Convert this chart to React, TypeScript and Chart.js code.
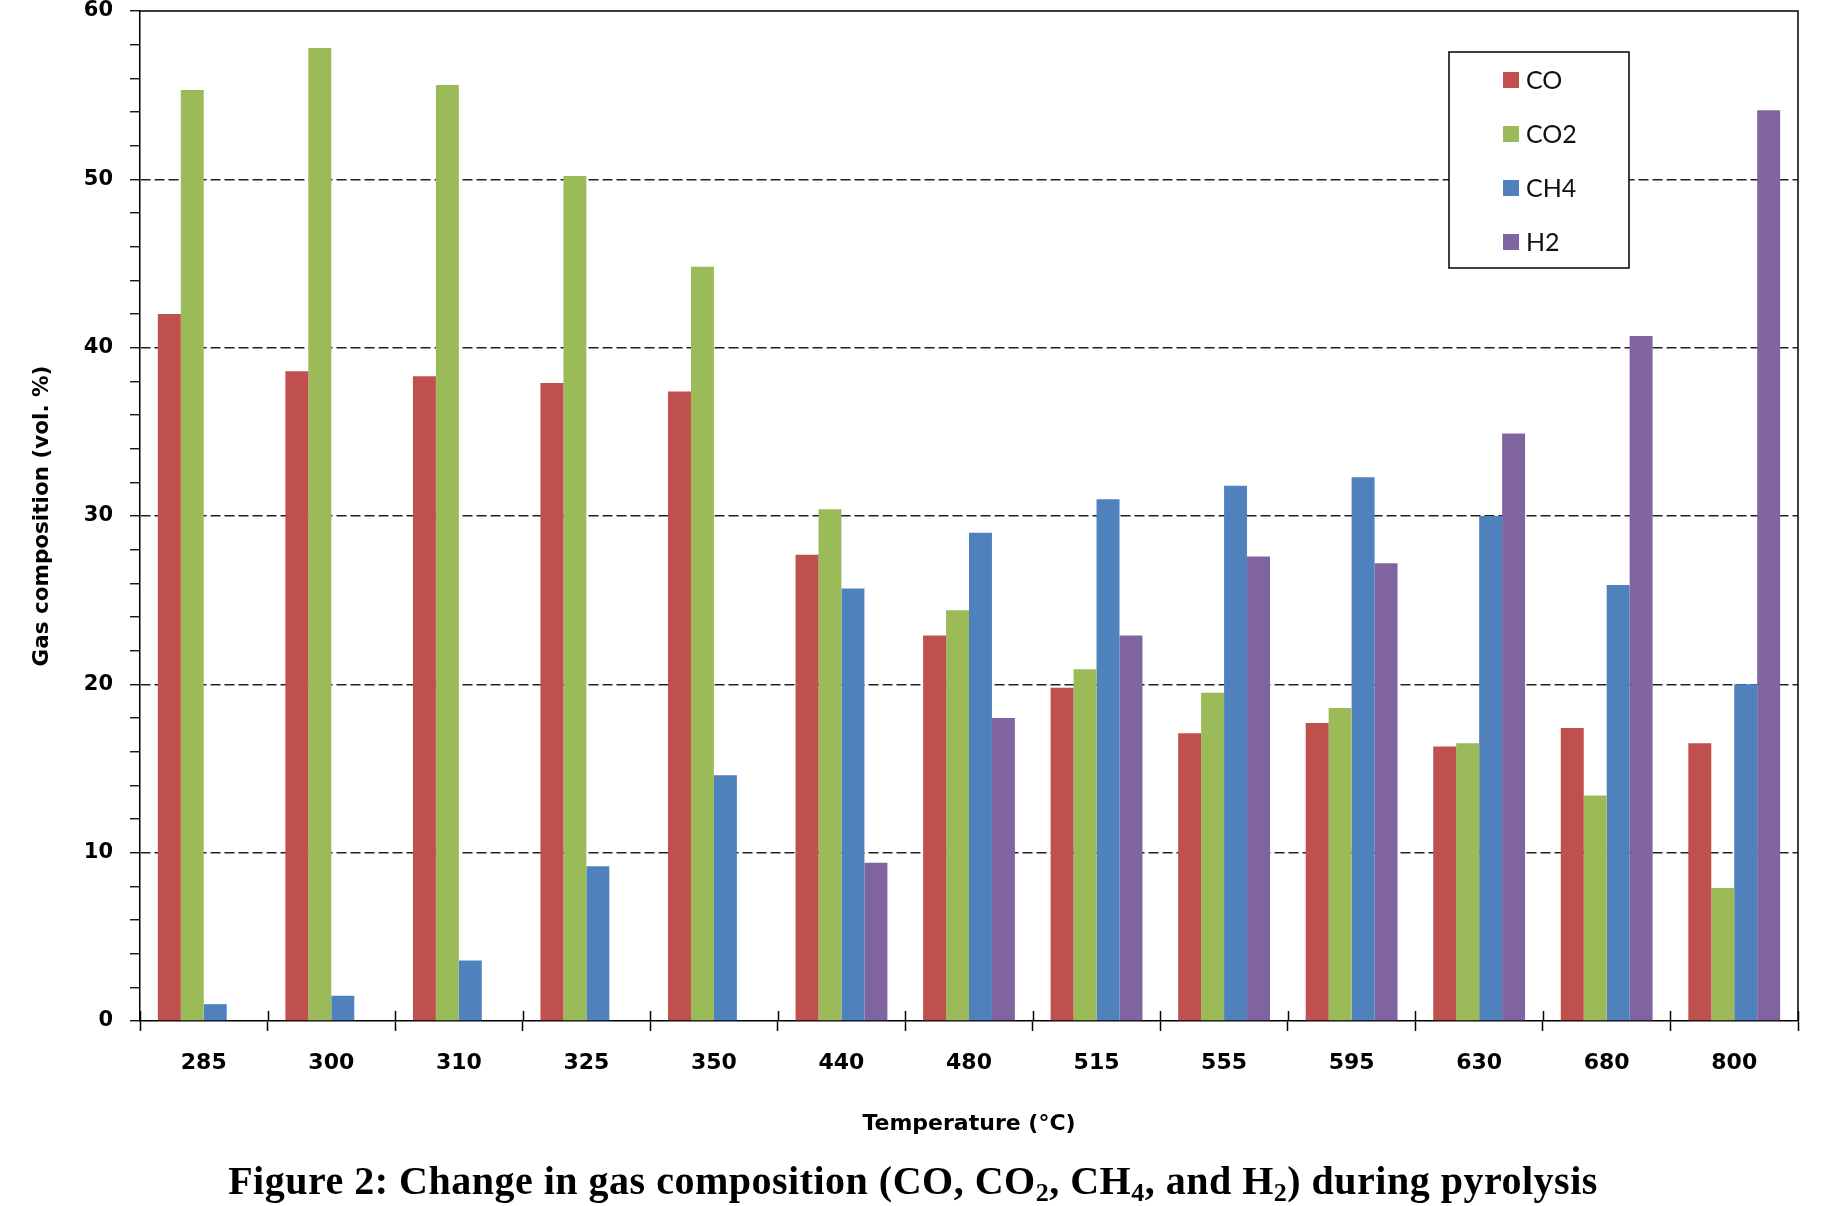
import React, { useEffect, useRef } from 'react';
import { Chart, registerables } from 'chart.js';

Chart.register(...registerables);

const categories = ['285', '300', '310', '325', '350', '440', '480', '515', '555', '595', '630', '680', '800'];
const coValues = [42.0, 38.6, 38.3, 37.9, 37.4, 27.7, 22.9, 19.8, 17.1, 17.7, 16.3, 17.4, 16.5];
const co2Values = [55.3, 57.8, 55.6, 50.2, 44.8, 30.4, 24.4, 20.9, 19.5, 18.6, 16.5, 13.4, 7.9];
const ch4Values = [1.0, 1.5, 3.6, 9.2, 14.6, 25.7, 29.0, 31.0, 31.8, 32.3, 30.0, 25.9, 20.0];
const h2Values = [null, null, null, null, null, 9.4, 18.0, 22.9, 27.6, 27.2, 34.9, 40.7, 54.1];

const seriesLabels = ['CO', 'CO2', 'CH4', 'H2'];
const seriesColors = ['#C0504D', '#9BBB59', '#4F81BD', '#8064A2'];

const yMin = 0;
const yMax = 60;
const yMinorStep = 2;
const yMajorStep = 10;

const xTitle = 'Temperature (°C)';
const yTitle = 'Gas composition (vol. %)';

const frameAndLegend = {
  id: 'frameAndLegend',
  afterDraw(chart: any) {
    const { ctx, chartArea: a } = chart;
    ctx.save();
    ctx.strokeStyle = '#000';
    ctx.lineWidth = 1.5;
    ctx.beginPath();
    ctx.moveTo(a.left, a.top);
    ctx.lineTo(a.right, a.top);
    ctx.lineTo(a.right, a.bottom);
    ctx.stroke();

    // category boundary ticks crossing above the axis
    const n = chart.data.labels.length;
    ctx.beginPath();
    for (let i = 0; i <= n; i++) {
      const x = Math.round(a.left + (i * a.width) / n) + 0.5;
      ctx.moveTo(x, a.bottom);
      ctx.lineTo(x, a.bottom - 10);
    }
    ctx.stroke();

    // legend box
    const bx = a.right - 349;
    const by = a.top + 41;
    const bw = 180;
    const bh = 216;
    ctx.fillStyle = '#fff';
    ctx.fillRect(bx, by, bw, bh);
    ctx.strokeStyle = '#000';
    ctx.lineWidth = 1.5;
    ctx.strokeRect(bx, by, bw, bh);
    ctx.font = '25px Lato';
    ctx.textBaseline = 'middle';
    ctx.textAlign = 'left';
    chart.data.datasets.forEach((ds: any, i: number) => {
      const cy = by + 28 + i * 54;
      ctx.fillStyle = ds.backgroundColor;
      ctx.fillRect(bx + 54, cy - 8, 16, 16);
      ctx.fillStyle = '#111';
      ctx.fillText(ds.label, bx + 77, cy + 1);
    });
    ctx.restore();
  },
};

export default function App() {
  const canvasRef = useRef<HTMLCanvasElement>(null);

  useEffect(() => {
    const canvas = canvasRef.current;
    if (!canvas) return;
    const valueSets = [coValues, co2Values, ch4Values, h2Values];
    const chart = new Chart(canvas, {
      type: 'bar',
      data: {
        labels: categories,
        datasets: valueSets.map((vals, i) => ({
          label: seriesLabels[i],
          data: vals as any,
          backgroundColor: seriesColors[i],
          borderWidth: 0,
          barPercentage: 1,
          categoryPercentage: 0.72,
        })),
      },
      options: {
        animation: false,
        responsive: false,
        devicePixelRatio: 1,
        layout: { padding: { left: 0, top: 11, right: 28, bottom: 55 } },
        plugins: {
          legend: { display: false },
          tooltip: { enabled: false },
        },
        scales: {
          x: {
            grid: {
              offset: true,
              drawOnChartArea: false,
              tickLength: 10,
              tickColor: '#000',
              tickWidth: 1.5,
            },
            border: { color: '#000', width: 1.5 },
            ticks: {
              color: '#000',
              font: { family: 'DejaVu Sans', weight: 'bold', size: 22 },
              padding: 19,
              maxRotation: 0,
              autoSkip: false,
            },
            title: {
              display: true,
              text: xTitle,
              color: '#000',
              font: { family: 'DejaVu Sans', weight: 'bold', size: 22 },
              padding: { top: 0, bottom: 14 },
            },
            afterFit: (s: any) => {
              s.height = 130;
              s.paddingLeft = 0;
              s.paddingRight = 0;
            },
          },
          y: {
            min: yMin,
            max: yMax,
            ticks: {
              stepSize: yMinorStep,
              autoSkip: false,
              color: '#000',
              font: { family: 'DejaVu Sans', weight: 'bold', size: 21 },
              padding: 17,
              callback: (v: any) => (Number(v) % yMajorStep === 0 ? String(v) : ''),
            },
            grid: {
              color: (c: any) => {
                const v = c.tick ? c.tick.value : 0;
                return v % yMajorStep === 0 && v !== yMin && v !== yMax ? '#222' : 'rgba(0,0,0,0)';
              },
              lineWidth: 1.5,
              tickColor: '#000',
              tickLength: 10,
              tickWidth: 1.3,
              tickBorderDash: [],
            },
            border: { color: '#000', width: 1.5, dash: [10, 4] },
            title: {
              display: true,
              text: yTitle,
              color: '#000',
              font: { family: 'DejaVu Sans', weight: 'bold', size: 21.5 },
              padding: { top: 30, bottom: 0 },
            },
            afterFit: (s: any) => {
              s.width = 140;
              s.paddingTop = 0;
              s.paddingBottom = 0;
            },
          },
        },
      } as any,
      plugins: [frameAndLegend],
    });
    return () => chart.destroy();
  }, []);

  const subStyle = { fontSize: '0.65em', lineHeight: 0, verticalAlign: '-0.25em' };

  return (
    <div style={{ position: 'absolute', left: 0, top: 0, width: 1826, height: 1206, background: '#fff' }}>
      <canvas ref={canvasRef} width={1826} height={1206} style={{ display: 'block' }} />
      <div
        style={{
          position: 'absolute',
          left: 0,
          top: 1158,
          width: 1826,
          textAlign: 'center',
          fontFamily: '"Liberation Serif", "Times New Roman", serif',
          fontWeight: 'bold',
          fontSize: 40,
          letterSpacing: '0.5px',
          lineHeight: '46px',
          color: '#000',
          whiteSpace: 'nowrap',
        }}
      >
        Figure 2: Change in gas composition (CO, CO<sub style={subStyle}>2</sub>, CH<sub style={subStyle}>4</sub>, and H
        <sub style={subStyle}>2</sub>) during pyrolysis
      </div>
    </div>
  );
}
